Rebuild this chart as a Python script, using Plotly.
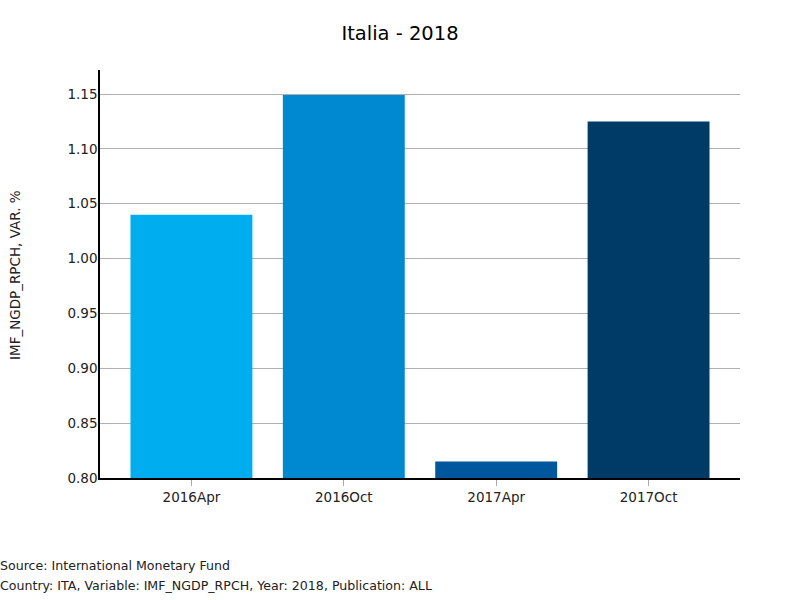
import plotly.graph_objects as go

categories = ["2016Apr", "2016Oct", "2017Apr", "2017Oct"]
values = [1.04, 1.149, 0.815, 1.125]
colors = ["#00AEEF", "#0088D1", "#00579E", "#003A66"]
y_ticks = [0.80, 0.85, 0.90, 0.95, 1.00, 1.05, 1.10, 1.15]

FONT = "DejaVu Sans"

fig = go.Figure(go.Bar(x=categories, y=values, marker=dict(color=colors, line=dict(width=0)), width=0.8))

fig.update_layout(
    width=800, height=600,
    paper_bgcolor="white", plot_bgcolor="white",
    margin=dict(l=100, r=60, t=70, b=122),
    font=dict(family=FONT, size=13.5, color="#222222"),
    title=dict(text="Italia - 2018", x=0.5, xanchor="center", y=1 - 33/600, yanchor="middle",
               font=dict(family=FONT, size=19.5, color="black")),
    showlegend=False,
    xaxis=dict(range=[-0.6, 3.6], showline=True, linecolor="black", linewidth=1.5,
               ticks="outside", ticklen=6, tickcolor="#aaaaaa", showgrid=False,
               tickfont=dict(size=13.5)),
    yaxis=dict(range=[0.8, 1.1719], tickvals=y_ticks, tickformat=".2f",
               showline=True, linecolor="black", linewidth=1.5,
               showgrid=True, gridcolor="#b0b0b0", gridwidth=1,
               ticks="", zeroline=False, tickfont=dict(size=13.5), ticklabelstandoff=-2),
    annotations=[
        dict(text="IMF_NGDP_RPCH, VAR. %", textangle=-90, xref="paper", yref="paper",
             x=(15 - 100) / 640, y=(478 - 275) / 408, xanchor="center", yanchor="middle",
             showarrow=False, font=dict(size=13.5, color="#222222")),
        dict(text="Source: International Monetary Fund", xref="paper", yref="paper",
             x=-102 / 640, y=(478 - 565) / 408, xanchor="left", yanchor="middle",
             showarrow=False, font=dict(size=12.6, color="#222222")),
        dict(text="Country: ITA, Variable: IMF_NGDP_RPCH, Year: 2018, Publication: ALL", xref="paper", yref="paper",
             x=-102 / 640, y=(478 - 585) / 408, xanchor="left", yanchor="middle",
             showarrow=False, font=dict(size=12.6, color="#222222")),
    ],
)

fig.write_html("out.html", config={"displayModeBar": False},
               post_script="document.body.style.margin='0';")
